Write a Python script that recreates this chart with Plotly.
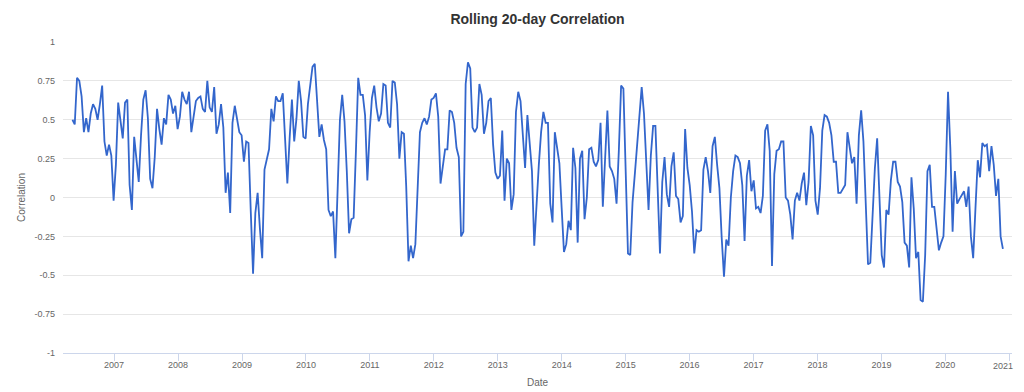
import pandas as pd
import plotly.graph_objects as go

# Sampling window of the rolling correlation series (regular spacing)
start_date = "2006-05-08"
end_date = "2020-11-25"

# Correlation values, in time order
corr_part1 = [0.50, 0.47, 0.77, 0.75, 0.65, 0.42, 0.51, 0.42, 0.54, 0.60,
              0.57, 0.50, 0.60, 0.72, 0.36, 0.27, 0.34, 0.27, -0.02, 0.21,
              0.61, 0.51, 0.38, 0.61, 0.63, 0.08, -0.08, 0.39, 0.23, 0.10,
              0.40, 0.63, 0.69, 0.51, 0.12, 0.06, 0.26, 0.57, 0.44, 0.34,
              0.51, 0.47, 0.66, 0.63, 0.54, 0.59, 0.44, 0.52, 0.68, 0.63]
corr_part2 = [0.60, 0.68, 0.42, 0.51, 0.62, 0.64, 0.65, 0.57, 0.55, 0.75,
              0.58, 0.55, 0.71, 0.41, 0.47, 0.60, 0.45, 0.03, 0.16, -0.10,
              0.48, 0.59, 0.51, 0.42, 0.40, 0.23, 0.36, 0.35, -0.09, -0.49,
              -0.10, 0.03, -0.20, -0.39, 0.18, 0.24, 0.31, 0.57, 0.49, 0.65,
              0.62, 0.62, 0.67, 0.38, 0.09, 0.38, 0.63, 0.36, 0.51, 0.75,
              0.62, 0.39]
corr_part3 = [0.38, 0.60, 0.72, 0.84, 0.86, 0.64, 0.39, 0.47, 0.37, 0.31,
              -0.08, -0.12, -0.09, -0.39, 0.08, 0.50, 0.66, 0.49, 0.17, -0.23,
              -0.14, -0.13, 0.30, 0.77, 0.66, 0.66, 0.53, 0.11, 0.42, 0.64,
              0.72, 0.58, 0.49, 0.54, 0.73, 0.72, 0.48, 0.45, 0.75, 0.74,
              0.60, 0.25, 0.42, 0.41, 0.07, -0.41, -0.31, -0.39, -0.30, 0.06,
              0.42, 0.48, 0.51]
corr_part4 = [0.47, 0.52, 0.63, 0.64, 0.67, 0.52, 0.09, 0.20, 0.31, 0.31,
              0.56, 0.55, 0.48, 0.32, 0.26, -0.25, -0.22, 0.73, 0.87, 0.83,
              0.45, 0.42, 0.45, 0.73, 0.66, 0.41, 0.48, 0.62, 0.64, 0.34,
              0.16, 0.12, 0.14, 0.43, -0.02, 0.25, 0.22, -0.08, 0.02, 0.55,
              0.68, 0.62, 0.38, 0.19, 0.53, 0.35, 0.17, -0.31, -0.03, 0.21,
              0.42, 0.55]
corr_part5 = [0.48, 0.48, -0.04, -0.16, 0.42, 0.32, 0.22, -0.07, -0.35, -0.30,
              -0.15, -0.21, 0.32, 0.19, -0.29, 0.25, 0.30, -0.14, 0.00, 0.31,
              0.32, 0.23, 0.20, 0.24, 0.48, -0.06, 0.30, 0.56, 0.20, 0.17,
              0.12, -0.04, 0.30, 0.72, 0.70, 0.18, -0.36, -0.37, -0.03, 0.15,
              0.32, 0.53, 0.71, 0.54, 0.18, -0.08, 0.27, 0.46, 0.46, -0.03,
              -0.36, 0.10, 0.26]
corr_part6 = [0.02, -0.06, 0.20, 0.29, 0.01, -0.01, -0.16, -0.12, 0.44, 0.19,
              0.08, -0.09, -0.36, -0.21, -0.22, -0.21, 0.18, 0.26, 0.17, 0.03,
              0.33, 0.39, 0.21, 0.06, -0.26, -0.51, -0.27, -0.31, 0.00, 0.17,
              0.27, 0.26, 0.22, 0.08, -0.28, 0.14, 0.24, 0.04, 0.11, -0.07,
              -0.06, -0.10, 0.01, 0.43, 0.47, 0.30, -0.44, 0.15, 0.30, 0.31,
              0.36, 0.36]
corr_part7 = [0.00, -0.02, -0.11, -0.27, -0.02, 0.03, -0.02, 0.09, 0.16, -0.05,
              0.10, 0.46, 0.40, -0.02, -0.11, 0.06, 0.43, 0.53, 0.52, 0.48,
              0.40, 0.23, 0.23, 0.03, 0.03, 0.06, 0.08, 0.42, 0.31, 0.22,
              0.26, -0.04, 0.40, 0.56, 0.36, -0.04, -0.43, -0.42, -0.11, 0.19,
              0.38, -0.03, -0.37, -0.45, -0.08, -0.11, 0.11, 0.23, 0.23, 0.10,
              0.07, -0.03, -0.29]
corr_part8 = [-0.31, -0.45, 0.13, -0.07, -0.39, -0.35, -0.66, -0.67, -0.37, 0.17,
              0.21, -0.06, -0.06, -0.20, -0.34, -0.29, -0.25, 0.15, 0.68, 0.32,
              -0.22, 0.17, -0.04, -0.01, 0.02, 0.04, -0.06, 0.07, -0.25, -0.39,
              -0.07, 0.24, 0.13, 0.35, 0.33, 0.34, 0.17, 0.33, 0.21, 0.01,
              0.12, -0.25, -0.33]

correlation = (corr_part1 + corr_part2 + corr_part3 + corr_part4 +
               corr_part5 + corr_part6 + corr_part7 + corr_part8)
dates = pd.date_range(start_date, end_date, periods=len(correlation))

# Axis ticks
year_ticks = [str(y) for y in range(2007, 2022)]
y_tick_values = [1, 0.75, 0.5, 0.25, 0, -0.25, -0.5, -0.75, -1]
y_tick_labels = ["1", "0.75", "0.5", "0.25", "0", "-0.25", "-0.5", "-0.75", "-1"]

FONT = "Liberation Sans, Arial, Helvetica, sans-serif"
LABEL_COLOR = "#666666"

fig = go.Figure()
fig.add_trace(go.Scatter(
    x=dates, y=correlation, mode="lines",
    line=dict(color="#3366cc", width=1.8),
    name="Correlation",
))

# The page body has an 8px default margin, so the figure starts at (8, 8)
fig.update_layout(
    width=1016, height=384,
    paper_bgcolor="white", plot_bgcolor="white",
    showlegend=False,
    margin=dict(l=55, r=12, t=34, b=39),
    font=dict(family=FONT, color=LABEL_COLOR, size=9),
    title=dict(text="Rolling 20-day Correlation", x=0.5, xanchor="center",
               xref="paper",
               y=1 - 11 / 384, yanchor="middle",
               font=dict(family=FONT, size=14, color="#333333", weight="bold")),
)

# last year label is drawn slightly shifted inward (as the edge label in the reference)
tick_dates = [f"{y}-01-01" for y in year_ticks]
tick_texts = year_ticks[:-1] + [""]

fig.update_xaxes(
    type="date",
    range=["2006-03-15", "2021-01-16"],
    tickmode="array", tickvals=tick_dates, ticktext=tick_texts,
    showgrid=False, zeroline=False,
    showline=True, linecolor="#ccd6eb", linewidth=1,
    ticks="outside", ticklen=7, tickcolor="#ccd6eb", tickwidth=1,
    ticklabelstandoff=-4,
    tickfont=dict(size=9, color=LABEL_COLOR),
    title=dict(text="Date", font=dict(size=10, color=LABEL_COLOR), standoff=10),
    automargin=False,
)

fig.add_annotation(
    x=tick_dates[-1], y=0, xref="x", yref="paper",
    text=year_ticks[-1], showarrow=False,
    xanchor="center", yanchor="top", xshift=-6, yshift=-6,
    font=dict(size=9, color=LABEL_COLOR, family=FONT),
)

fig.update_yaxes(
    range=[-1, 1],
    tickmode="array", tickvals=y_tick_values, ticktext=y_tick_labels,
    showgrid=True, gridcolor="#e6e6e6", gridwidth=1,
    zeroline=False, showline=False, ticks="",
    ticklabelstandoff=7,
    tickfont=dict(size=9, color=LABEL_COLOR),
    title=dict(text="Correlation", font=dict(size=10, color=LABEL_COLOR), standoff=6),
    automargin=False,
)

fig.write_html("out.html")
